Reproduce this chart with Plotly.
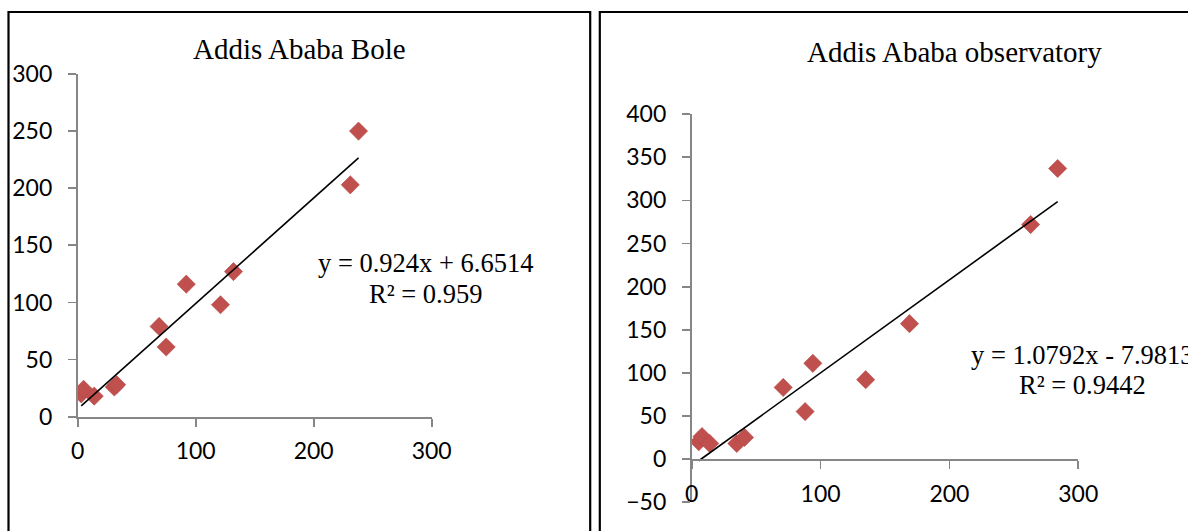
import plotly.graph_objects as go

W, H = 1188, 531

# ---- data ----
bole_x = [3, 5, 14, 31, 33, 69, 75, 92, 121, 132, 231, 238]
bole_y = [20, 24, 18, 26, 28, 79, 61, 116, 98, 127, 203, 250]
bole_slope, bole_intercept = 0.924, 6.6514

obs_x = [5.5, 8, 14, 35, 41, 71, 88, 94, 135, 169, 263, 284]
obs_y = [20, 26, 18, 18, 25, 83, 55, 111, 92, 157, 272, 337]
obs_slope, obs_intercept = 1.0792, -7.9813

titles = ["Addis Ababa Bole", "Addis Ababa observatory"]
eq_texts = ["y = 0.924x + 6.6514", "R² = 0.959", "y = 1.0792x - 7.9813", "R² = 0.9442"]
bole_ticks_x = [0, 100, 200, 300]
bole_ticks_y = [0, 50, 100, 150, 200, 250, 300]
obs_ticks_x = [0, 100, 200, 300]
obs_ticks_y = [-50, 0, 50, 100, 150, 200, 250, 300, 350, 400]

MARK = "#C0504D"
AXC = "#868686"
SERIF = "Liberation Serif, Times New Roman, serif"
SANS = "Lato, Open Sans, sans-serif"


def px(x):
    return x / W


def py(y):
    return 1 - y / H


fig = go.Figure()

# left panel
fig.add_trace(go.Scatter(x=bole_x, y=bole_y, mode="markers", xaxis="x", yaxis="y",
                         marker=dict(symbol="diamond", size=14, color=MARK,
                                     line=dict(width=0.6, color="#B44744")),
                         showlegend=False, hoverinfo="skip"))
bx = [min(bole_x), max(bole_x)]
fig.add_trace(go.Scatter(x=bx, y=[bole_slope * v + bole_intercept for v in bx], mode="lines",
                         xaxis="x", yaxis="y", line=dict(color="black", width=1.6),
                         showlegend=False, hoverinfo="skip"))

# right panel
fig.add_trace(go.Scatter(x=obs_x, y=obs_y, mode="markers", xaxis="x2", yaxis="y2",
                         marker=dict(symbol="diamond", size=14, color=MARK,
                                     line=dict(width=0.6, color="#B44744")),
                         showlegend=False, hoverinfo="skip"))
ox = [min(obs_x), max(obs_x)]
fig.add_trace(go.Scatter(x=ox, y=[obs_slope * v + obs_intercept for v in ox], mode="lines",
                         xaxis="x2", yaxis="y2", line=dict(color="black", width=1.6),
                         showlegend=False, hoverinfo="skip"))

axis_common = dict(showgrid=False, zeroline=False, showline=True, linecolor=AXC, linewidth=1.8,
                   ticks="outside", ticklen=8, tickwidth=1.8, tickcolor=AXC, automargin=False,
                   tickfont=dict(family=SANS, size=23, color="#000000"), fixedrange=True)

obs_ydom = [py(502.1), py(114.2)]
x2_pos = obs_ydom[0] + (0 - (-50)) / 450 * (obs_ydom[1] - obs_ydom[0])

fig.update_layout(
    template="none",
    width=W, height=H, margin=dict(l=0, r=0, t=0, b=0, pad=0),
    paper_bgcolor="white", plot_bgcolor="rgba(0,0,0,0)",
    xaxis=dict(domain=[px(77.7), px(431.7)], range=[0, 300], tickvals=bole_ticks_x,
               anchor="y", ticklabelstandoff=5, **axis_common),
    yaxis=dict(domain=[py(416.7), py(74)], range=[0, 300], tickvals=bole_ticks_y,
               anchor="x", ticklabelstandoff=11, **axis_common),
    xaxis2=dict(domain=[px(691.7), px(1078.3)], range=[0, 300], tickvals=obs_ticks_x,
                anchor="free", position=x2_pos, ticklabelstandoff=6, **axis_common),
    yaxis2=dict(domain=obs_ydom, range=[-50, 400], tickvals=obs_ticks_y,
                anchor="x2", ticklabelstandoff=11, **axis_common),
)

# panel borders
fig.add_shape(type="rect", xref="paper", yref="paper", x0=px(8.5), x1=px(590.2), y0=-0.2, y1=py(12),
              line=dict(color="black", width=2.2), fillcolor="rgba(0,0,0,0)")
fig.add_shape(type="rect", xref="paper", yref="paper", x0=px(599.8), x1=1.2, y0=-0.2, y1=py(12),
              line=dict(color="black", width=2.2), fillcolor="rgba(0,0,0,0)")

ann = []
ann.append(dict(text=titles[0], x=px(299.5), y=py(49), xanchor="center", yanchor="middle",
                xref="paper", yref="paper",
                font=dict(family=SERIF, size=29, color="black")))
ann.append(dict(text=titles[1], x=px(954), y=py(52), xanchor="center", yanchor="middle",
                xref="paper", yref="paper",
                font=dict(family=SERIF, size=29, color="black")))
ann.append(dict(text=eq_texts[0], x=px(425.3), y=py(263), xanchor="center", yanchor="middle",
                xref="paper", yref="paper",
                font=dict(family=SERIF, size=26.5, color="black")))
ann.append(dict(text=eq_texts[1], x=px(425.7), y=py(294), xanchor="center", yanchor="middle",
                xref="paper", yref="paper",
                font=dict(family=SERIF, size=26.5, color="black")))
# right-panel equation anchored in data coords (runs past the page edge as in the reference)
ann.append(dict(text=eq_texts[2], x=(969.3 - 691.7) / 1.2887, y=(459 - 355) / 0.8618,
                xanchor="left", yanchor="middle", xref="x2", yref="y2",
                font=dict(family=SERIF, size=26.5, color="black")))
ann.append(dict(text=eq_texts[3], x=(1017.5 - 691.7) / 1.2887, y=(459 - 385) / 0.8618,
                xanchor="left", yanchor="middle", xref="x2", yref="y2",
                font=dict(family=SERIF, size=26.5, color="black")))
for a in ann:
    a.update(showarrow=False)
fig.update_layout(annotations=ann)

fig.write_html("out.html", config={"displayModeBar": False, "staticPlot": True},
               post_script="document.body.style.margin='0';document.body.style.overflow='hidden';")
